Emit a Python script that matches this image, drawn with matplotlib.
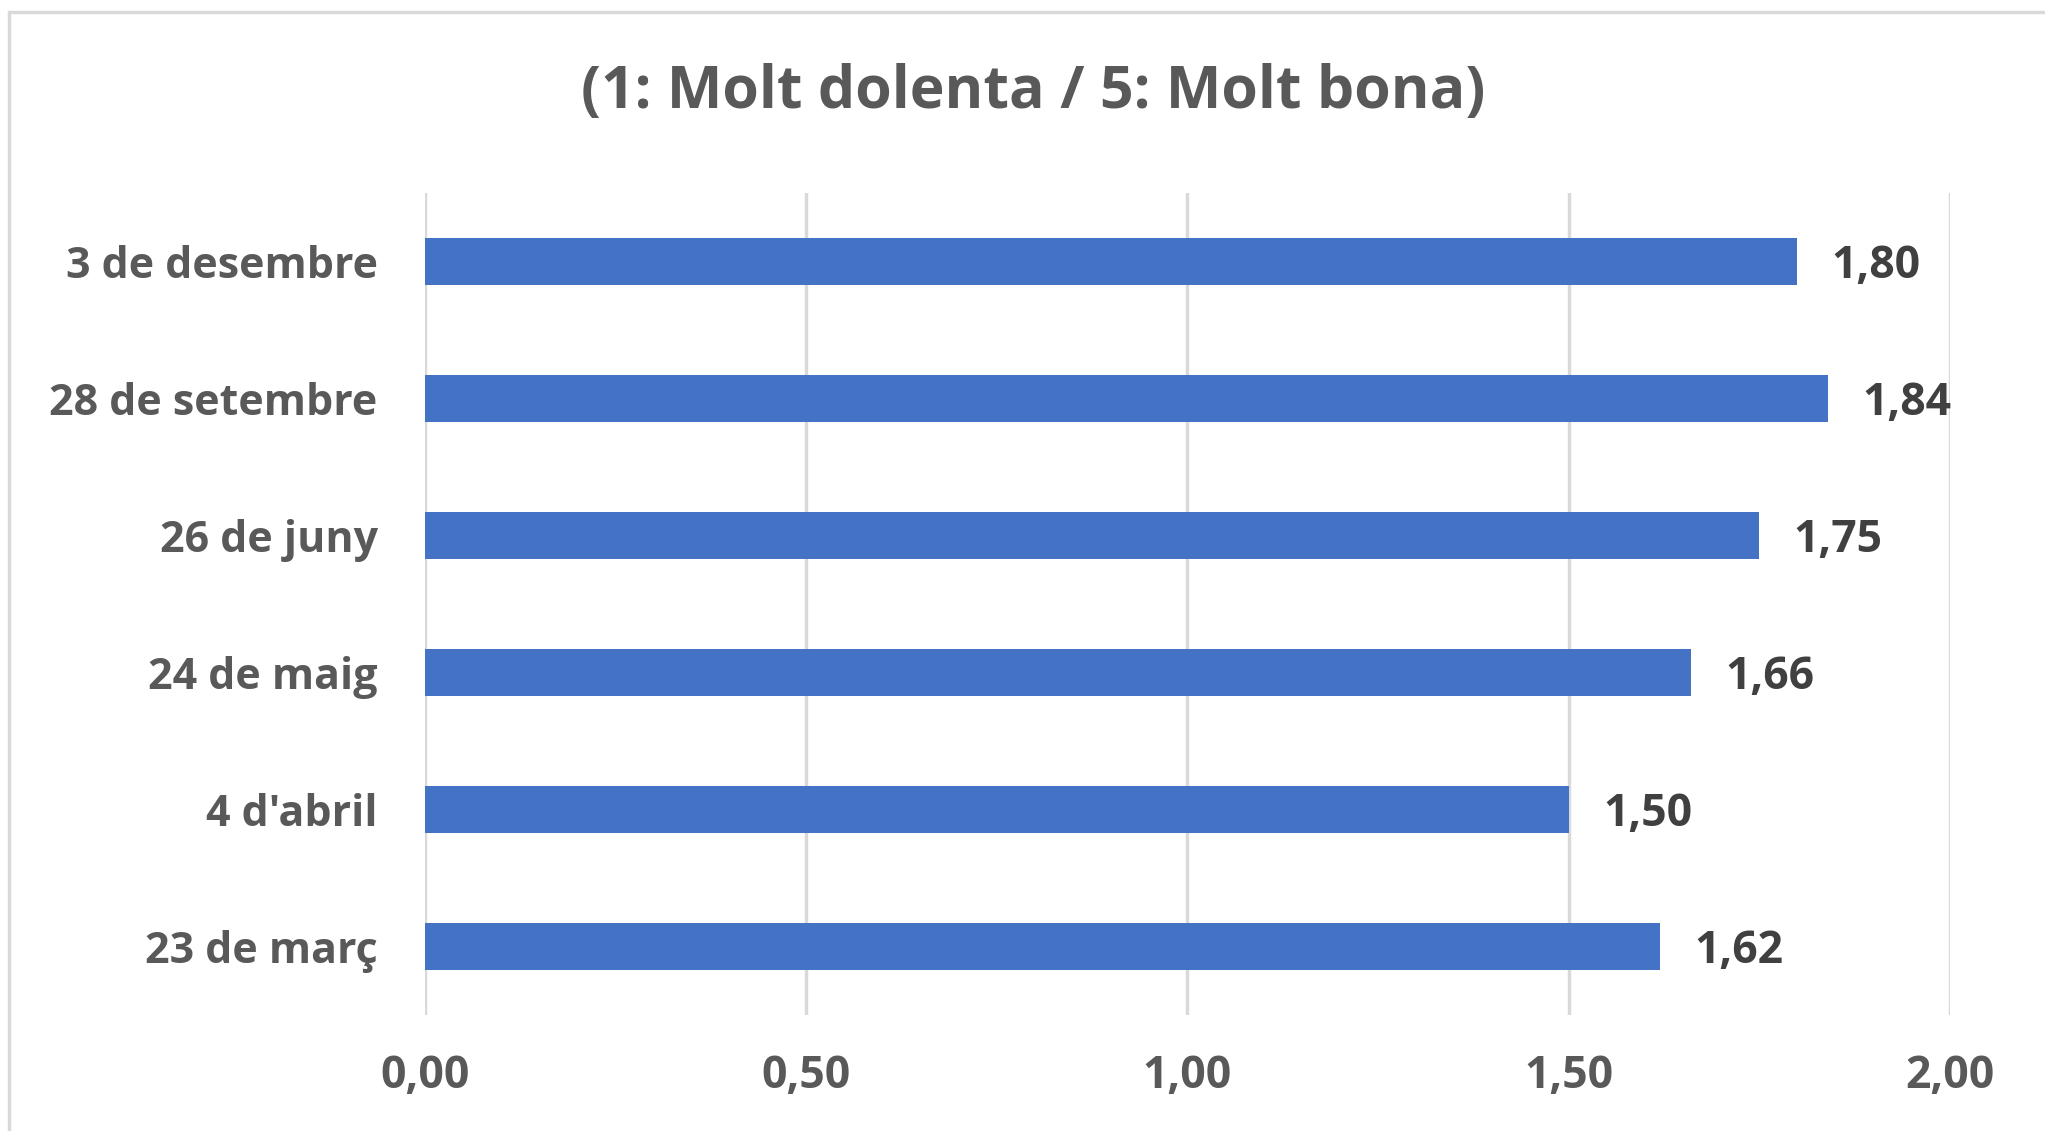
import matplotlib
matplotlib.use("Agg")
import matplotlib.pyplot as plt
from matplotlib.patches import Rectangle

# data, top to bottom as in the chart
dates = ["3 de desembre", "28 de setembre", "26 de juny", "24 de maig", "4 d'abril", "23 de març"]
scores = [1.80, 1.84, 1.75, 1.66, 1.50, 1.62]
xticks = [0.0, 0.5, 1.0, 1.5, 2.0]
title = "(1: Molt dolenta / 5: Molt bona)"

plt.rcParams['font.family'] = ['Open Sans', 'DejaVu Sans']
plt.rcParams['font.weight'] = 'bold'

fig = plt.figure(figsize=(20.45, 11.31), dpi=100)
fig.patches.append(Rectangle((9 / 2045, -0.1), 1.2, 1 - 12 / 1131 + 0.1,
                             transform=fig.transFigure, fill=False,
                             edgecolor="#d9d9d9", linewidth=2.5))

ax = fig.add_axes([0.2078, 0.1026, 0.9535 - 0.2078, 0.8294 - 0.1026])
ypos = list(range(len(dates)))
ax.barh(ypos, scores, height=0.343, color="#4472c4", zorder=3)

for y, v in zip(ypos, scores):
    ax.text(v + 0.045, y + 0.035, f"{v:.2f}".replace(".", ","), va="center", ha="left",
            fontsize=32, fontweight="bold", color="#404040")

ax.set_xlim(0, 2.0)
ax.set_ylim(len(dates) - 0.5, -0.5)
ax.set_xticks(xticks)
ax.set_xticklabels([f"{t:.2f}".replace(".", ",") for t in xticks])
ax.set_yticks(ypos)
ax.set_yticklabels(dates)
ax.tick_params(axis="x", length=0, pad=28, labelsize=32, labelcolor="#595959")
ax.tick_params(axis="y", length=0, pad=34, labelsize=31, labelcolor="#595959")
for lab in ax.get_xticklabels() + ax.get_yticklabels():
    lab.set_fontweight("bold")
ax.grid(axis="x", color="#d9d9d9", linewidth=2.5, zorder=0)
ax.grid(axis="y", visible=False)
for s in ax.spines.values():
    s.set_visible(False)

fig.text(0.505, 1 - 92 / 1131, title, ha="center", va="center",
         fontsize=42.5, fontweight="bold", color="#595959")

fig.savefig("out.png", dpi=100)
